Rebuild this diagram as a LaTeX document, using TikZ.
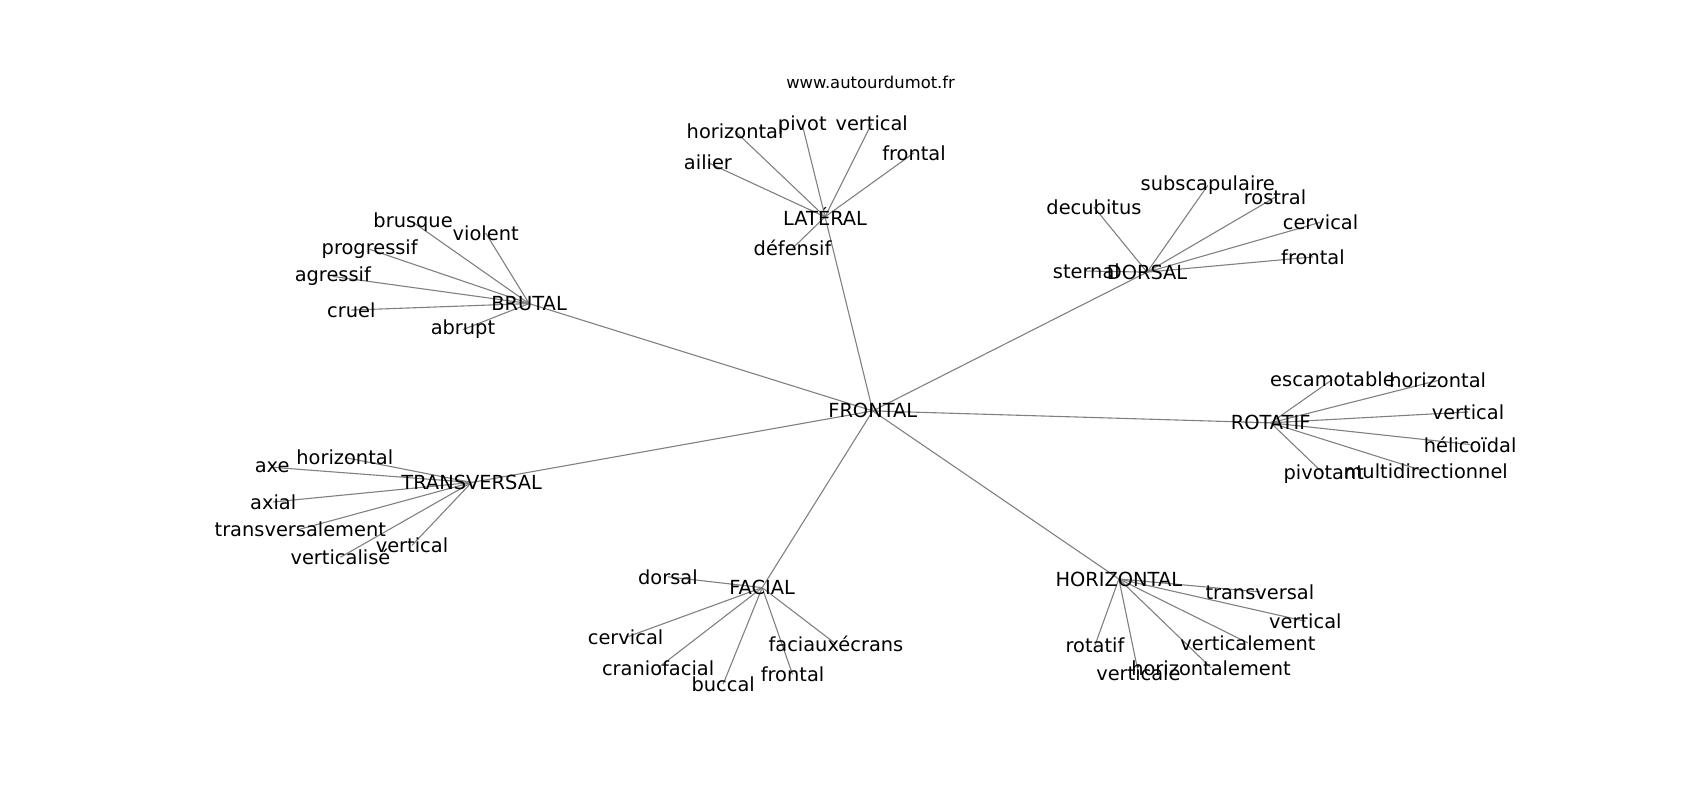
\documentclass[tikz,border=0pt]{standalone}
\usepackage{fontspec}
\setmainfont{DejaVu Sans}
\usetikzlibrary{backgrounds}
\tikzset{
  word/.style={inner sep=0pt, text=black, font=\fontsize{9.7}{11}\selectfont},
  link/.style={draw=gray, line width=0.55pt}
}
\begin{document}
\begin{tikzpicture}[x=0.5421pt, y=-0.5421pt]
            \useasboundingbox (0,0) rectangle (1568,738);
            \node[font=\fontsize{8.2}{10}\selectfont, inner sep=0pt] (site) at (803,76) {www.autourdumot.fr};
            % centre
            \node[word] (frontal) at (805,379) {FRONTAL};
            % LATÉRAL
            \node[word] (lateral) at (761,200) {LATÉRAL};
            \node[word] (lathoriz) at (678,121) {horizontal};
            \node[word] (latpivot) at (740,115) {pivot};
            \node[word] (latvert) at (804,114) {vertical};
            \node[word] (latfront) at (843,141) {frontal};
            \node[word] (latailier) at (653,150) {ailier};
            \node[word] (latdef) at (731,229) {défensif};
            % DORSAL
            \node[word] (dorsal) at (1058,251) {DORSAL};
            \node[word] (dordecub) at (1009,191) {decubitus};
            \node[word] (dorsubsc) at (1114,171) {subscapulaire};
            \node[word] (dorrostr) at (1176,182) {rostral};
            \node[word] (dorcerv) at (1218,205) {cervical};
            \node[word] (dorfront) at (1211,237) {frontal};
            \node[word] (dorstern) at (1002,250) {sternal};
            % BRUTAL
            \node[word] (brutal) at (488,280) {BRUTAL};
            \node[word] (brubrusq) at (381,205) {brusque};
            \node[word] (bruviol) at (448,215) {violent};
            \node[word] (bruprog) at (341,230) {progressif};
            \node[word] (bruagr) at (307,255) {agressif};
            \node[word] (brucruel) at (324,286) {cruel};
            \node[word] (bruabr) at (427,304) {abrupt};
            % ROTATIF
            \node[word] (rotatif) at (1172,390) {ROTATIF};
            \node[word] (rotesc) at (1229,350) {escamotable};
            \node[word] (rothoriz) at (1326,351) {horizontal};
            \node[word] (rotvert) at (1354,380) {vertical};
            \node[word] (rothelic) at (1356,410) {hélicoïdal};
            \node[word] (rotmulti) at (1315,435) {multidirectionnel};
            \node[word] (rotpiv) at (1221,437) {pivotant};
            % TRANSVERSAL
            \node[word] (transv) at (435,445) {TRANSVERSAL};
            \node[word] (trahoriz) at (318,422) {horizontal};
            \node[word] (traaxe) at (251,431) {axe};
            \node[word] (traaxial) at (252,463) {axial};
            \node[word] (traent) at (277,488) {transversalement};
            \node[word] (travert) at (380,503) {vertical};
            \node[word] (travise) at (314,514) {verticalisé};
            % FACIAL
            \node[word] (facial) at (703,542) {FACIAL};
            \node[word] (facdors) at (616,532) {dorsal};
            \node[word] (faccerv) at (577,588) {cervical};
            \node[word] (faccran) at (607,616) {craniofacial};
            \node[word] (facbucc) at (667,631) {buccal};
            \node[word] (facfront) at (731,622) {frontal};
            \node[word] (facecr) at (771,594) {faciauxécrans};
            % HORIZONTAL
            \node[word] (horiz) at (1032,534) {HORIZONTAL};
            \node[word] (hortrans) at (1162,546) {transversal};
            \node[word] (horvert) at (1204,573) {vertical};
            \node[word] (horvment) at (1151,593) {verticalement};
            \node[word] (horhment) at (1117,616) {horizontalement};
            \node[word] (horrot) at (1010,595) {rotatif};
            \node[word] (horvale) at (1050,621) {verticale};
            \begin{scope}[on background layer]
            \draw[link] (frontal.center) -- (lateral.center);
            \draw[link] (frontal.center) -- (dorsal.center);
            \draw[link] (frontal.center) -- (brutal.center);
            \draw[link] (frontal.center) -- (rotatif.center);
            \draw[link] (frontal.center) -- (transv.center);
            \draw[link] (frontal.center) -- (facial.center);
            \draw[link] (frontal.center) -- (horiz.center);
            \draw[link] (lateral.center) -- (lathoriz.center);
            \draw[link] (lateral.center) -- (latpivot.center);
            \draw[link] (lateral.center) -- (latvert.center);
            \draw[link] (lateral.center) -- (latfront.center);
            \draw[link] (lateral.center) -- (latailier.center);
            \draw[link] (lateral.center) -- (latdef.center);
            \draw[link] (dorsal.center) -- (dordecub.center);
            \draw[link] (dorsal.center) -- (dorsubsc.center);
            \draw[link] (dorsal.center) -- (dorrostr.center);
            \draw[link] (dorsal.center) -- (dorcerv.center);
            \draw[link] (dorsal.center) -- (dorfront.center);
            \draw[link] (dorsal.center) -- (dorstern.center);
            \draw[link] (brutal.center) -- (brubrusq.center);
            \draw[link] (brutal.center) -- (bruviol.center);
            \draw[link] (brutal.center) -- (bruprog.center);
            \draw[link] (brutal.center) -- (bruagr.center);
            \draw[link] (brutal.center) -- (brucruel.center);
            \draw[link] (brutal.center) -- (bruabr.center);
            \draw[link] (rotatif.center) -- (rotesc.center);
            \draw[link] (rotatif.center) -- (rothoriz.center);
            \draw[link] (rotatif.center) -- (rotvert.center);
            \draw[link] (rotatif.center) -- (rothelic.center);
            \draw[link] (rotatif.center) -- (rotmulti.center);
            \draw[link] (rotatif.center) -- (rotpiv.center);
            \draw[link] (transv.center) -- (trahoriz.center);
            \draw[link] (transv.center) -- (traaxe.center);
            \draw[link] (transv.center) -- (traaxial.center);
            \draw[link] (transv.center) -- (traent.center);
            \draw[link] (transv.center) -- (travert.center);
            \draw[link] (transv.center) -- (travise.center);
            \draw[link] (facial.center) -- (facdors.center);
            \draw[link] (facial.center) -- (faccerv.center);
            \draw[link] (facial.center) -- (faccran.center);
            \draw[link] (facial.center) -- (facbucc.center);
            \draw[link] (facial.center) -- (facfront.center);
            \draw[link] (facial.center) -- (facecr.center);
            \draw[link] (horiz.center) -- (hortrans.center);
            \draw[link] (horiz.center) -- (horvert.center);
            \draw[link] (horiz.center) -- (horvment.center);
            \draw[link] (horiz.center) -- (horhment.center);
            \draw[link] (horiz.center) -- (horrot.center);
            \draw[link] (horiz.center) -- (horvale.center);
            \end{scope}
        \end{tikzpicture}
\end{document}
